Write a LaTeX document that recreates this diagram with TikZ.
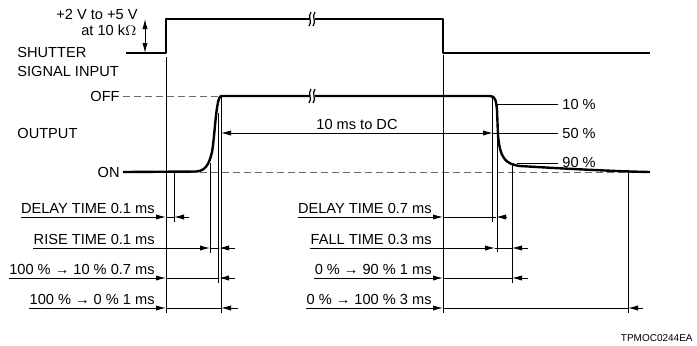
\documentclass[tikz,border=0pt]{standalone}
\usepackage{fontspec}
\setmainfont{Liberation Sans}
\usetikzlibrary{arrows.meta,positioning,calc}

\begin{document}
\begin{tikzpicture}[x=0.5pt,y=-0.5pt,
  lbl/.style={font=\fontsize{7.3}{9.5}\selectfont,inner sep=0pt},
  sig/.style={line width=1.2pt,line join=round},
  ext/.style={line width=0.45pt},
  refline/.style={line width=0.45pt,gray!85!black,dash pattern=on 3.5pt off 2pt},
  dim/.style={line width=0.45pt,-{Latex[length=5pt,width=2.6pt]}}]
  \useasboundingbox (0,0) rectangle (697,345);

  \node[lbl,anchor=base east] (lvlhi) at (138,19) {+2 V to +5 V};
  \node[lbl,anchor=base east] (lvlr) at (137,35) {at 10 k$\Omega$};
  \node[lbl,anchor=west,align=left] (shutter) at (17,62) {SHUTTER\\SIGNAL INPUT};
  \node[lbl,anchor=east] (off) at (120,96.5) {OFF};
  \node[lbl,anchor=west] (output) at (17,133) {OUTPUT};
  \node[lbl,anchor=east] (on) at (120,172) {ON};
  \node[lbl,anchor=west] (p10) at (562,104) {10 \%};
  \node[lbl,anchor=west] (p50) at (562,133) {50 \%};
  \node[lbl,anchor=west] (p90) at (562,162) {90 \%};
  \node[lbl] (tdc) at (357,124.5) {10 ms to DC};
  \node[font=\fontsize{5}{6}\selectfont,inner sep=0pt,anchor=base east] (code) at (693,341.5) {TPMOC0244EA};

  \draw[refline] (off.east) ++(3,0) -- (218,96.5);
  \draw[refline] (on.east) ++(3,0) -- (650,172);

  \draw[sig] (126,53) -- (166,53) -- (166,19) -- (443,19) -- (443,53) -- (650,53);
  \draw[dim] (145,36) -- (145,19);
  \draw[dim] (145,36) -- (145,53);

  \draw[sig] (on.east) ++(3,0) -- (196,171.5)
    .. controls (205,171) and (209,165) .. (212,152)
    .. controls (215,135) and (216,97) .. (221,96) -- (490,96)
    .. controls (495,96) and (496,100) .. (497,110) -- (498,135)
    .. controls (500,158) and (505,164) .. (520,166)
    .. controls (570,169) and (620,171.5) .. (650,172);

  \foreach \y in {19,96} {
    \fill[white] (309.5,\y-5) rectangle (314.5,\y+5);
    \draw[line width=0.6pt] (311,\y-7) .. controls (307,\y-2) and (313,\y+2) .. (309,\y+7);
    \draw[line width=0.6pt] (315,\y-7) .. controls (311,\y-2) and (317,\y+2) .. (313,\y+7);
  }

  \foreach \x/\ya/\yb in {166/57/313, 174/172/222, 210/163/253, 218/113/283, 221/96/313,
                          443/55/313, 492/96/222, 497/104/252, 512/165/283, 628/172/313}
    \draw[ext] (\x,\ya) -- (\x,\yb);

  \draw[dim] (tdc.south |- p50.west) -- (221,133);
  \draw[dim] (tdc.south |- p50.west) -- (493,133);
  \draw[ext] (493,133) -- ($(p50.west)+(-4,0)$);
  \draw[ext] (497,104) -- ($(p10.west)+(-4,0)$);
  \draw[ext] (517,163.5) -- ($(p90.west)+(-4,1.5)$);

  \foreach \n/\y/\txt/\xr/\p/\q/\e in {
      la/217/DELAY TIME 0.1 ms/155/166/174/189,
      lb/248/RISE TIME 0.1 ms/155/210/219/235,
      lc/278/100 \% → 10 \% 0.7 ms/155/166/219/235,
      ld/308/100 \% → 0 \% 1 ms/155/166/221/238,
      ra/217/DELAY TIME 0.7 ms/432/443/496/507,
      rb/248/FALL TIME 0.3 ms/432/495/512/528,
      rc/278/0 \% → 90 \% 1 ms/432/443/512/528,
      rd/308/0 \% → 100 \% 3 ms/432/443/628/643} {
    \node[lbl,anchor=base east] (t\n) at (\xr,\y-4) {\txt};
    \coordinate (a\n) at (\p,\y);
    \coordinate (b\n) at (\q,\y);
    \coordinate (e\n) at (\e,\y);
    \draw[dim] (t\n.west |- a\n) -- (a\n);
    \draw[ext] (a\n) -- (b\n);
    \draw[dim] (e\n) -- (b\n);
  }
\end{tikzpicture}
\end{document}
